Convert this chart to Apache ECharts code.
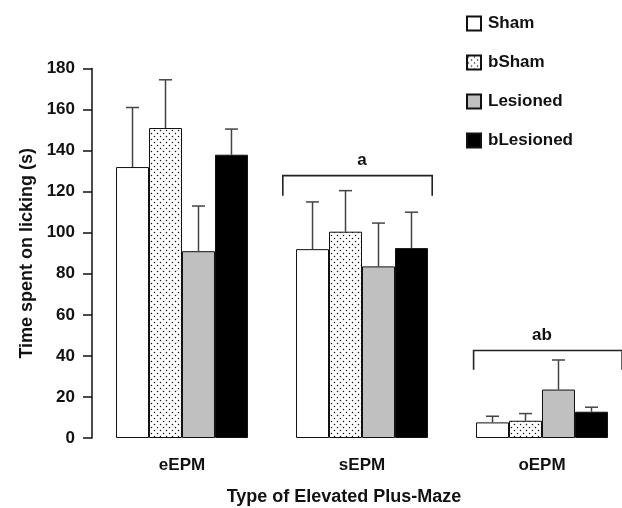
<!DOCTYPE html>
<html>
<head>
<meta charset="utf-8">
<script src="https://cdn.jsdelivr.net/npm/echarts@6/dist/echarts.min.js"></script>
<style>
  html, body { margin: 0; padding: 0; background: #fff; }
  #chart { width: 622px; height: 508px; }
</style>
</head>
<body>
<div id="chart"></div>
<script>
// Maze types along the x axis
const mazeTypes = ['eEPM', 'sEPM', 'oEPM'];
// Group names
const groups = ['Sham', 'bSham', 'Lesioned', 'bLesioned'];
// Mean licking time (s) per group, one entry per maze type
const shamMean      = [132, 92, 7.6];
const bShamMean     = [151, 100.5, 8.4];
const lesionedMean  = [91, 83.6, 23.6];
const bLesionedMean = [138, 92.5, 12.8];
// Upper end of the error bar (mean + SEM)
const shamUpper      = [161, 115, 10.6];
const bShamUpper     = [174.5, 120.5, 11.9];
const lesionedUpper  = [113, 104.7, 38];
const bLesionedUpper = [150.5, 110, 15];
// Significance brackets: maze type index, top value, arm end value, label,
// and horizontal reach left/right of the category centre (in category widths)
const bracketCat   = [1, 2];
const bracketTop   = [127.8, 42.6];
const bracketEnd   = [118, 33.2];
const bracketLabel = ['a', 'ab'];
const bracketLeft  = [0.44, 0.38];
const bracketRight = [0.39, 0.445];
// Y axis ticks
const yMin = 0, yMax = 180, yStep = 20;

const FONT = '"Liberation Sans", Arial, Helvetica, sans-serif';

// Dotted fill used for the bSham bars
function dotPattern() {
  const c = document.createElement('canvas');
  c.width = 6; c.height = 6;
  const ctx = c.getContext('2d');
  ctx.fillStyle = '#fff';
  ctx.fillRect(0, 0, 6, 6);
  ctx.fillStyle = '#111';
  ctx.beginPath(); ctx.arc(1.5, 1.5, 0.75, 0, Math.PI * 2); ctx.fill();
  ctx.beginPath(); ctx.arc(4.5, 4.5, 0.75, 0, Math.PI * 2); ctx.fill();
  return { image: c, repeat: 'repeat' };
}

const means  = [shamMean, bShamMean, lesionedMean, bLesionedMean];
const uppers = [shamUpper, bShamUpper, lesionedUpper, bLesionedUpper];
const fills  = ['#ffffff', dotPattern(), '#c0c0c0', '#000000'];
const CAT_GAP = 0.267;

const chart = echarts.init(document.getElementById('chart'), null, { renderer: 'canvas' });

const series = [];
groups.forEach((g, i) => {
  series.push({
    name: g,
    type: 'bar',
    data: means[i],
    barGap: '0%',
    barCategoryGap: (CAT_GAP * 100) + '%',
    itemStyle: { color: fills[i], borderColor: '#111', borderWidth: 1 },
    emphasis: { disabled: true },
    z: 2
  });
});

// One-sided error bars drawn above each bar
groups.forEach((g, i) => {
  series.push({
    type: 'custom',
    name: g + ' error',
    data: mazeTypes.map((m, k) => [k, means[i][k], uppers[i][k]]),
    renderItem: function (params, api) {
      const band = api.size([1, 0])[0];
      const bw = band * (1 - CAT_GAP) / groups.length;
      const base = api.coord([api.value(0), api.value(1)]);
      const top = api.coord([api.value(0), api.value(2)]);
      const x = base[0] + (i - (groups.length - 1) / 2) * bw;
      const half = 6.5;
      const st = { stroke: '#444', lineWidth: 1.5 };
      return {
        type: 'group',
        children: [
          { type: 'line', shape: { x1: x, y1: base[1], x2: x, y2: top[1] }, style: st },
          { type: 'line', shape: { x1: x - half, y1: top[1], x2: x + half, y2: top[1] }, style: st }
        ]
      };
    },
    z: 1,
    silent: true
  });
});

// Significance brackets with their letters
series.push({
  type: 'custom',
  name: 'brackets',
  data: bracketCat.map((c, k) => [c, bracketTop[k], bracketEnd[k], bracketLeft[k], bracketRight[k]]),
  renderItem: function (params, api) {
    const band = api.size([1, 0])[0];
    const top = api.coord([api.value(0), api.value(1)]);
    const end = api.coord([api.value(0), api.value(2)]);
    const xl = top[0] - band * api.value(3), xr = top[0] + band * api.value(4);
    return {
      type: 'group',
      children: [
        {
          type: 'polyline',
          shape: { points: [[xl, end[1]], [xl, top[1]], [xr, top[1]], [xr, end[1]]] },
          style: { stroke: '#222', lineWidth: 1.6, fill: null }
        },
        {
          type: 'text',
          style: {
            x: top[0], y: top[1] - 15,
            text: bracketLabel[params.dataIndex],
            font: 'bold 17px ' + FONT,
            fill: '#111',
            align: 'center', verticalAlign: 'middle'
          }
        }
      ]
    };
  },
  silent: true,
  z: 3
});

chart.setOption({
  animation: false,
  backgroundColor: '#fff',
  grid: { left: 92, top: 68.5, width: 540, height: 369.5, containLabel: false, outerBoundsMode: 'none' },
  legend: {
    data: groups,
    orient: 'vertical',
    left: 461,
    top: 10,
    itemWidth: 14,
    itemHeight: 14,
    itemGap: 22,
    icon: 'rect',
    selectedMode: false,
    textStyle: { fontFamily: FONT, fontWeight: 'bold', fontSize: 17, color: '#111', padding: [0, 0, 0, 2] }
  },
  xAxis: {
    type: 'category',
    data: mazeTypes,
    axisLine: { show: false },
    axisTick: { show: false },
    axisLabel: { fontFamily: FONT, fontWeight: 'bold', fontSize: 17, color: '#111', margin: 19 }
  },
  yAxis: {
    type: 'value',
    min: yMin, max: yMax, interval: yStep,
    name: 'Time spent on licking (s)',
    nameLocation: 'middle',
    nameRotate: 90,
    nameGap: 56,
    nameTextStyle: { fontFamily: FONT, fontWeight: 'bold', fontSize: 18, color: '#111' },
    axisLine: { show: true, lineStyle: { color: '#111', width: 1.5 } },
    axisTick: { show: true, length: 9, lineStyle: { color: '#111', width: 1.5 } },
    axisLabel: { fontFamily: FONT, fontWeight: 'bold', fontSize: 17, color: '#111', margin: 17 },
    splitLine: { show: false }
  },
  graphic: [{
    type: 'text',
    x: 344,
    y: 497,
    style: {
      text: 'Type of Elevated Plus-Maze',
      font: 'bold 18px ' + FONT,
      fill: '#111',
      align: 'center',
      verticalAlign: 'middle'
    }
  }],
  series: series
});
</script>
</body>
</html>
